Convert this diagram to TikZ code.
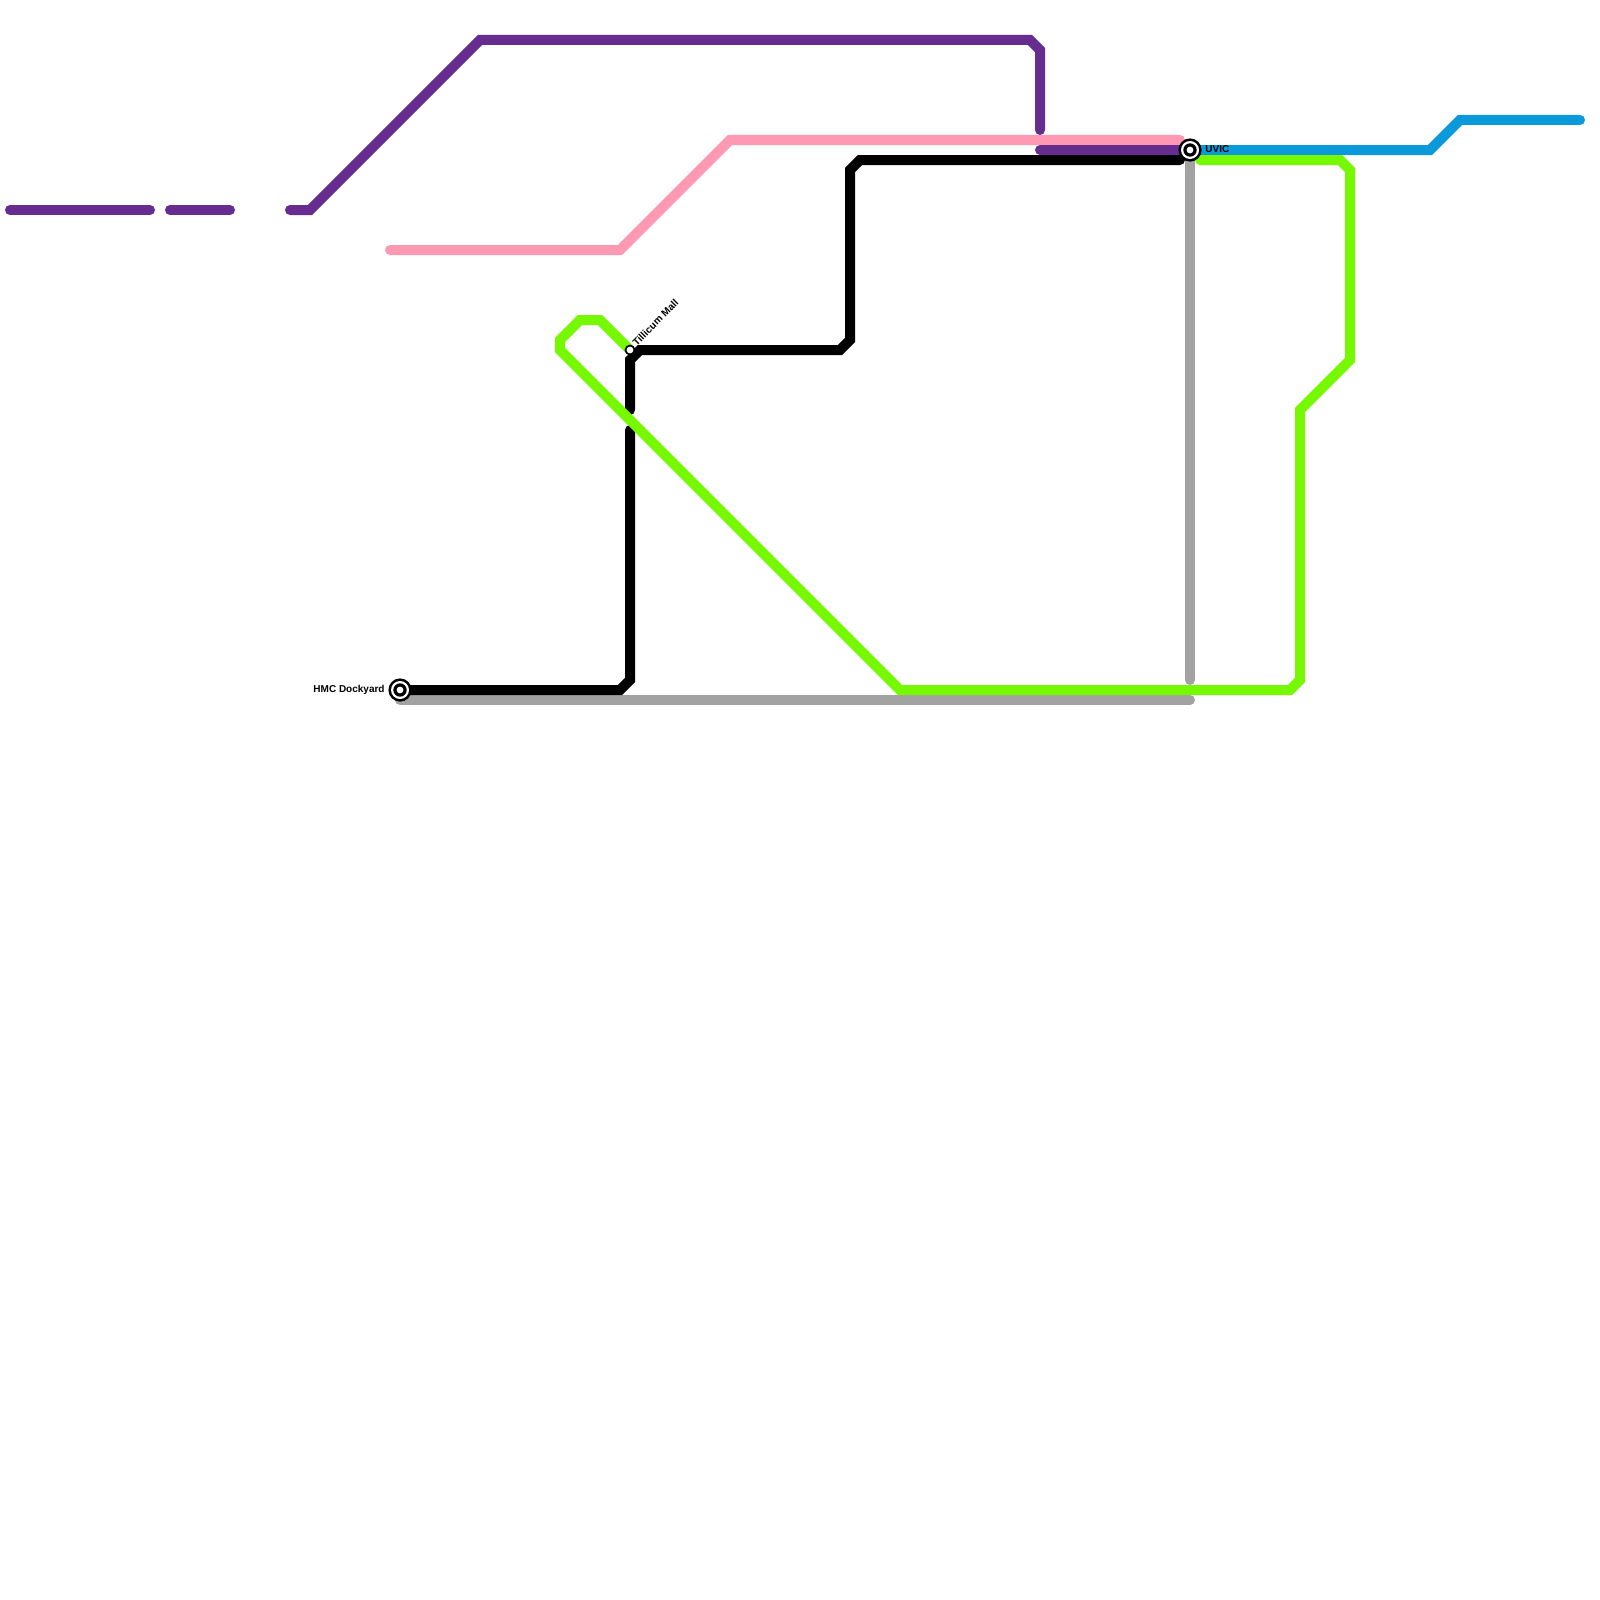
\documentclass[tikz,border=0pt]{standalone}
\usepackage{fontspec}
\setmainfont{Liberation Sans}
\definecolor{lpurple}{HTML}{662C90}
\definecolor{lpink}{HTML}{FF98B3}
\definecolor{lgreen}{HTML}{76F800}
\definecolor{lgray}{HTML}{A2A2A2}
\definecolor{lblue}{HTML}{0A9ADB}
\tikzset{
  metro/.style={line width=5pt,line cap=round,line join=miter},
  terminus/.style={circle,fill=black,minimum size=11.6pt,inner sep=0pt,
    path picture={\fill[white] (path picture bounding box.center) circle[radius=4.5pt];
                  \fill[black] (path picture bounding box.center) circle[radius=3.35pt];
                  \fill[white] (path picture bounding box.center) circle[radius=1.7pt];}},
  stop/.style={circle,fill=black,minimum size=5.4pt,inner sep=0pt,
    path picture={\fill[white] (path picture bounding box.center) circle[radius=1.7pt];}},
  lbl/.style={font=\bfseries\fontsize{5pt}{6pt}\selectfont,inner sep=0pt,text=black}
}
\begin{document}
\begin{tikzpicture}[x=0.5pt,y=-0.5pt]
\useasboundingbox (0,0) rectangle (1600,1600);
\coordinate (hmc) at (400,690);
\coordinate (til) at (630,350);
\coordinate (uvc) at (1190,150);
\coordinate (p1a) at (10,210); \coordinate (p1b) at (150,210);
\coordinate (p2a) at (170,210); \coordinate (p2b) at (230,210);
\coordinate (p3a) at (290,210); \coordinate (p3b) at (1040,130);
\coordinate (p4a) at (1040,150); \coordinate (p4b) at (1180,150);
\coordinate (pka) at (390,250); \coordinate (pkb) at (1180,140);
\coordinate (bka) at (630,430); \coordinate (bkb) at (630,410); \coordinate (bkc) at (1180,160);
\coordinate (gya) at (400,700); \coordinate (gyb) at (1190,700);
\coordinate (gyc) at (1190,160); \coordinate (gyd) at (1190,680);
\coordinate (grb) at (1200,160);
\coordinate (bla) at (1200,150); \coordinate (blb) at (1580,120);

\draw[metro,lgray] (gya) -- (gyb);
\draw[metro,lgray] (gyc) -- (gyd);
\draw[metro,black] (hmc) -- (620,690) -- (630,680) -- (bka);
\draw[metro,black] (bkb) -- (630,360) -- (640,350) -- (840,350) -- (850,340) -- (850,170) -- (860,160) -- (bkc);
\draw[metro,lpink] (pka) -- (620,250) -- (730,140) -- (pkb);
\draw[metro,lpurple] (p1a) -- (p1b);
\draw[metro,lpurple] (p2a) -- (p2b);
\draw[metro,lpurple] (p3a) -- (310,210) -- (480,40) -- (1030,40) -- (1040,50) -- (p3b);
\draw[metro,lpurple] (p4a) -- (p4b);
\draw[metro,lblue] (bla) -- (1430,150) -- (1460,120) -- (blb);
\draw[metro,lgreen] (til) -- (600,320) -- (580,320) -- (560,340) -- (560,350) -- (900,690) -- (1290,690) -- (1300,680) -- (1300,410) -- (1350,360) -- (1350,170) -- (1340,160) -- (grb);

\node[terminus] (nhmc) at (hmc) {};
\node[terminus] (nuvc) at (uvc) {};
\node[stop] (ntil) at (til) {};
\node[lbl,anchor=east] (thmc) at (385,690) {HMC Dockyard};
\node[lbl,anchor=west] (tuvc) at (1205,149) {UVIC};
\node[lbl,anchor=west,rotate=45] (ttil) at (634,344) {Tillicum Mall};
\end{tikzpicture}
\end{document}
